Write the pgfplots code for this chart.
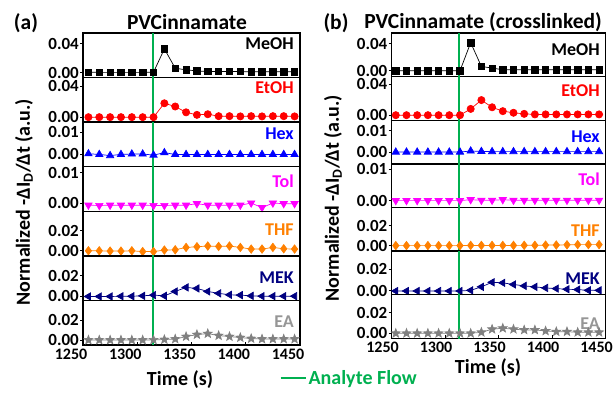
\documentclass[border=0pt]{standalone}
\usepackage{fontspec}
\setmainfont{Carlito}
\usepackage{pgfplots}
\usepackage{pgfplotstable}
\pgfplotsset{compat=1.18}
\usetikzlibrary{plotmarks}
\definecolor{flow}{RGB}{0,176,80}
\definecolor{cRed}{RGB}{255,0,0}
\definecolor{cBlue}{RGB}{0,0,255}
\definecolor{cMag}{RGB}{255,0,255}
\definecolor{cOrange}{RGB}{255,128,0}
\definecolor{cNavy}{RGB}{0,0,128}
\definecolor{cGray}{RGB}{128,128,128}
\definecolor{cGrayT}{RGB}{150,150,150}
\newcommand{\tkfont}{\fontsize{17}{17}\selectfont\bfseries}
\newcommand{\xtkfont}{\fontsize{16}{16}\selectfont\bfseries}
\newcommand{\lblfont}{\fontsize{18}{18}\selectfont\bfseries}
\newcommand{\bigfont}{\fontsize{20}{20}\selectfont\bfseries}
\newcommand{\ttlfont}{\fontsize{21.5}{21.5}\selectfont\bfseries}

\pgfdeclareplotmark{fstar}{%
 \pgfpathmoveto{\pgfpointpolar{90}{\pgfplotmarksize}}%
 \pgfpathlineto{\pgfpointpolar{126}{0.42\pgfplotmarksize}}%
 \pgfpathlineto{\pgfpointpolar{162}{\pgfplotmarksize}}%
 \pgfpathlineto{\pgfpointpolar{198}{0.42\pgfplotmarksize}}%
 \pgfpathlineto{\pgfpointpolar{234}{\pgfplotmarksize}}%
 \pgfpathlineto{\pgfpointpolar{270}{0.42\pgfplotmarksize}}%
 \pgfpathlineto{\pgfpointpolar{306}{\pgfplotmarksize}}%
 \pgfpathlineto{\pgfpointpolar{342}{0.42\pgfplotmarksize}}%
 \pgfpathlineto{\pgfpointpolar{18}{\pgfplotmarksize}}%
 \pgfpathlineto{\pgfpointpolar{54}{0.42\pgfplotmarksize}}%
 \pgfpathclose\pgfusepathqfillstroke}

\pgfplotstableread{
t meoh etoh hex tol thf mek ea
1255 0.0005 0.0000 0.0003 -0.0007 0.0000 0.0000 0.0000
1265 0.0003 0.0000 0.0000 -0.0008 0.0000 0.0000 0.0000
1275 0.0003 0.0000 -0.0005 -0.0007 -0.0003 0.0000 0.0000
1285 0.0003 0.0000 0.0000 -0.0007 -0.0003 0.0002 0.0000
1295 0.0003 0.0000 0.0002 -0.0007 0.0000 0.0002 0.0000
1305 0.0003 0.0000 0.0002 -0.0007 -0.0008 0.0006 0.0000
1315 0.0005 0.0000 -0.0003 -0.0008 -0.0008 0.0013 0.0002
1325 0.0330 0.0181 0.0008 -0.0008 0.0007 0.0006 0.0005
1335 0.0061 0.0139 0.0000 -0.0007 0.0010 0.0048 0.0010
1345 0.0038 0.0063 0.0000 -0.0007 0.0033 0.0087 0.0035
1355 0.0024 0.0030 0.0000 -0.0002 0.0040 0.0077 0.0055
1365 0.0014 0.0038 0.0000 -0.0007 0.0047 0.0048 0.0065
1375 0.0014 0.0013 0.0000 -0.0007 0.0043 0.0030 0.0045
1385 0.0014 0.0013 0.0000 -0.0007 0.0047 0.0016 0.0035
1395 0.0014 0.0010 0.0000 -0.0007 0.0033 0.0013 0.0025
1405 0.0012 0.0013 0.0000 0.0000 0.0017 0.0006 0.0015
1415 0.0012 0.0010 0.0000 -0.0015 0.0017 0.0003 0.0010
1425 0.0012 0.0013 0.0000 0.0000 0.0033 0.0003 0.0010
1435 0.0012 0.0013 0.0000 -0.0002 0.0020 0.0003 0.0010
1445 0.0012 0.0010 0.0000 -0.0002 0.0017 0.0003 0.0010
}\dataA

\pgfplotstableread{
t meoh etoh hex tol thf mek ea
1254 0.0000 0.0003 0.0000 0.0000 0.0000 0.0000 0.0000
1264 0.0000 0.0003 0.0000 0.0000 0.0000 0.0000 0.0000
1274 0.0000 0.0003 0.0000 0.0000 0.0000 0.0000 0.0000
1284 0.0000 0.0003 0.0000 0.0000 0.0000 0.0000 0.0000
1294 0.0000 0.0003 0.0000 0.0000 0.0000 0.0000 0.0000
1304 0.0000 0.0003 0.0000 0.0000 0.0000 0.0000 0.0000
1314 0.0000 0.0003 0.0000 0.0000 0.0000 0.0000 0.0000
1324 0.0420 0.0084 0.0005 0.0003 0.0002 0.0006 0.0000
1334 0.0064 0.0198 0.0003 0.0001 0.0002 0.0038 0.0010
1344 0.0040 0.0105 0.0002 0.0001 0.0002 0.0080 0.0040
1354 0.0015 0.0055 0.0002 0.0003 0.0002 0.0075 0.0050
1364 0.0015 0.0034 0.0002 0.0001 0.0002 0.0060 0.0040
1374 0.0015 0.0020 0.0002 0.0001 0.0003 0.0047 0.0033
1384 0.0015 0.0013 0.0002 0.0001 0.0003 0.0038 0.0033
1394 0.0015 0.0013 0.0002 0.0001 0.0005 0.0028 0.0023
1404 0.0015 0.0013 0.0002 0.0001 0.0006 0.0022 0.0016
1414 0.0015 0.0013 0.0002 0.0001 0.0008 0.0016 0.0016
1424 0.0015 0.0013 0.0002 0.0001 0.0010 0.0013 0.0010
1434 0.0015 0.0013 0.0002 0.0001 0.0010 0.0006 0.0010
1444 0.0015 0.0013 0.0002 0.0001 0.0010 0.0006 0.0010
}\dataB

\pgfplotsset{
 myrow/.style={scale only axis, anchor=south west, xmin=1250, xmax=1450,
   axis line style={line width=1.3pt}, xtick=\empty, ytick pos=left,
   ytick align=outside, major tick length=3pt,
   tick style={line width=1pt, black},
   scaled y ticks=false, scaled x ticks=false,
   yticklabel style={font=\tkfont, inner sep=1pt},
   /pgf/number format/assume math mode=true},
 rowA/.style={myrow, width=217pt, height=44.57pt},
 rowB/.style={myrow, width=214pt, height=43.6pt},
 botrowA/.style={xtick={1250,1300,1350,1400,1450},
   xticklabels={1250,1300,1350,1400,1450}, xtick pos=bottom, xtick align=inside,
   xticklabel style={font=\xtkfont, xshift=-12pt}},
 botrowB/.style={xtick={1250,1300,1350,1400,1450},
   xticklabels={1250,1300,1350,1400,1450}, xtick pos=bottom, xtick align=inside,
   xticklabel style={font=\xtkfont, xshift=-9pt}},
 dat/.style={line width=0.7pt, mark options={solid}},
 gl/.style={flow, line width=2pt},
}

\begin{document}
\begin{tikzpicture}
\path[use as bounding box] (0pt,0pt) rectangle (615pt,392pt);

% ---------------- Panel (a) ----------------
\begin{axis}[rowA, at={(83pt,314.42pt)}, ymin=-0.0069, ymax=0.055, ytick={0,0.04}, yticklabels={0.00,0.04}]
\addplot[dat, black, mark=square*, mark size=3.2pt] table[x=t,y=meoh]{\dataA};
\addplot[gl] coordinates {(1314.5,-1) (1314.5,1)};
\node[anchor=north east, inner sep=0pt, font=\lblfont, text=black] at (rel axis cs:0.972,0.89) {MeOH};
\end{axis}
\begin{axis}[rowA, at={(83pt,269.85pt)}, ymin=-0.0065, ymax=0.0516, ytick={0,0.04}, yticklabels={0.00,0.04}]
\addplot[dat, cRed, mark=*, mark size=3.6pt] table[x=t,y=etoh]{\dataA};
\addplot[gl] coordinates {(1314.5,-1) (1314.5,1)};
\node[anchor=north east, inner sep=0pt, font=\lblfont, text=cRed] at (rel axis cs:0.972,0.91) {EtOH};
\end{axis}
\begin{axis}[rowA, at={(83pt,225.28pt)}, ymin=-0.0055, ymax=0.0145, ytick={0,0.01}, yticklabels={0.00,0.01}]
\addplot[dat, cBlue, mark=triangle*, mark size=4.2pt] table[x=t,y=hex]{\dataA};
\addplot[gl] coordinates {(1314.5,-1) (1314.5,1)};
\node[anchor=north east, inner sep=0pt, font=\lblfont, text=cBlue] at (rel axis cs:0.972,0.886) {Hex};
\end{axis}
\begin{axis}[rowA, at={(83pt,180.71pt)}, ymin=-0.0027, ymax=0.012, ytick={0,0.01}, yticklabels={0.00,0.01}]
\addplot[dat, cMag, mark=triangle*, mark size=4.2pt, mark options={rotate=180}] table[x=t,y=tol]{\dataA};
\addplot[gl] coordinates {(1314.5,-1) (1314.5,1)};
\node[anchor=north east, inner sep=0pt, font=\lblfont, text=cMag] at (rel axis cs:0.972,0.82) {Tol};
\end{axis}
\begin{axis}[rowA, at={(83pt,136.14pt)}, ymin=-0.005, ymax=0.039, ytick={0,0.02}, yticklabels={0.00,0.02}]
\addplot[dat, cOrange, mark=diamond*, mark size=4.2pt] table[x=t,y=thf]{\dataA};
\addplot[gl] coordinates {(1314.5,-1) (1314.5,1)};
\node[anchor=north east, inner sep=0pt, font=\lblfont, text=cOrange] at (rel axis cs:0.972,0.727) {THF};
\end{axis}
\begin{axis}[rowA, at={(83pt,91.57pt)}, ymin=-0.0038, ymax=0.039, ytick={0,0.02}, yticklabels={0.00,0.02}]
\addplot[dat, cNavy, mark=triangle*, mark size=4.2pt, mark options={rotate=90}] table[x=t,y=mek]{\dataA};
\addplot[gl] coordinates {(1314.5,-1) (1314.5,1)};
\node[anchor=north east, inner sep=0pt, font=\lblfont, text=cNavy] at (rel axis cs:0.972,0.645) {MEK};
\end{axis}
\begin{axis}[rowA, botrowA, at={(83pt,47pt)}, ymin=-0.005, ymax=0.04, ytick={0,0.02}, yticklabels={0.00,0.02},
  legend style={at={(0.905,-0.74)}, anchor=west, draw=none, fill=none, font=\bigfont, text=flow, inner sep=0pt},
  legend image code/.code={\draw[#1] (0pt,0pt) -- (25pt,0pt);}]
\addplot[dat, cGray, mark=fstar, mark size=4.6pt, forget plot] table[x=t,y=ea]{\dataA};
\addplot[gl] coordinates {(1314.5,-1) (1314.5,1)};
\addlegendentry{Analyte Flow}
\node[anchor=north east, inner sep=0pt, font=\lblfont, text=cGrayT] at (rel axis cs:0.972,0.667) {EA};
\end{axis}

% ---------------- Panel (b) ----------------
\begin{axis}[rowB, at={(391.5pt,315.3pt)}, ymin=-0.0089, ymax=0.0563, ytick={0,0.04}, yticklabels={0.00,0.04}]
\addplot[dat, black, mark=square*, mark size=3.2pt] table[x=t,y=meoh]{\dataB};
\addplot[gl] coordinates {(1313,-1) (1313,1)};
\node[anchor=north east, inner sep=0pt, font=\lblfont, text=black] at (rel axis cs:0.974,0.77) {MeOH};
\end{axis}
\begin{axis}[rowB, at={(391.5pt,271.7pt)}, ymin=-0.0063, ymax=0.050, ytick={0,0.04}, yticklabels={0.00,0.04}]
\addplot[dat, cRed, mark=*, mark size=3.6pt] table[x=t,y=etoh]{\dataB};
\addplot[gl] coordinates {(1313,-1) (1313,1)};
\node[anchor=north east, inner sep=0pt, font=\lblfont, text=cRed] at (rel axis cs:0.974,0.816) {EtOH};
\end{axis}
\begin{axis}[rowB, at={(391.5pt,228.1pt)}, ymin=-0.0055, ymax=0.0148, ytick={0,0.01}, yticklabels={0.00,0.01}]
\addplot[dat, cBlue, mark=triangle*, mark size=4.2pt] table[x=t,y=hex]{\dataB};
\addplot[gl] coordinates {(1313,-1) (1313,1)};
\node[anchor=north east, inner sep=0pt, font=\lblfont, text=cBlue] at (rel axis cs:0.974,0.77) {Hex};
\end{axis}
\begin{axis}[rowB, at={(391.5pt,184.5pt)}, ymin=-0.0022, ymax=0.0118, ytick={0,0.01}, yticklabels={0.00,0.01}]
\addplot[dat, cMag, mark=triangle*, mark size=4.2pt, mark options={rotate=180}] table[x=t,y=tol]{\dataB};
\addplot[gl] coordinates {(1313,-1) (1313,1)};
\node[anchor=north east, inner sep=0pt, font=\lblfont, text=cMag] at (rel axis cs:0.974,0.79) {Tol};
\end{axis}
\begin{axis}[rowB, at={(391.5pt,140.9pt)}, ymin=-0.0055, ymax=0.0383, ytick={0,0.02}, yticklabels={0.00,0.02}]
\addplot[dat, cOrange, mark=diamond*, mark size=4.2pt] table[x=t,y=thf]{\dataB};
\addplot[gl] coordinates {(1313,-1) (1313,1)};
\node[anchor=north east, inner sep=0pt, font=\lblfont, text=cOrange] at (rel axis cs:0.974,0.61) {THF};
\end{axis}
\begin{axis}[rowB, at={(391.5pt,97.3pt)}, ymin=-0.0034, ymax=0.0367, ytick={0,0.02}, yticklabels={0.00,0.02}]
\addplot[dat, cNavy, mark=triangle*, mark size=4.2pt, mark options={rotate=90}] table[x=t,y=mek]{\dataB};
\addplot[gl] coordinates {(1313,-1) (1313,1)};
\node[anchor=north east, inner sep=0pt, font=\lblfont, text=cNavy] at (rel axis cs:0.974,0.495) {MEK};
\end{axis}
\begin{axis}[rowB, botrowB, at={(391.5pt,53.7pt)}, ymin=-0.0049, ymax=0.0379, ytick={0,0.02}, yticklabels={0.00,0.02}]
\addplot[dat, cGray, mark=fstar, mark size=4.6pt] table[x=t,y=ea]{\dataB};
\addplot[gl] coordinates {(1313,-1) (1313,1)};
\node[anchor=north east, inner sep=0pt, font=\lblfont, text=cGrayT] at (rel axis cs:0.974,0.47) {EA};
\end{axis}

% ---------------- titles and labels ----------------
\node[font=\ttlfont] at (26pt,369pt) {(a)};
\node[font=\ttlfont] at (187pt,370pt) {PVCinnamate};
\node[font=\ttlfont] at (336pt,369pt) {(b)};
\node[font=\ttlfont] at (483pt,370pt) {PVCinnamate (crosslinked)};
\node[font=\bigfont, rotate=90] at (24pt,190pt) {Normalized -ΔI\textsubscript{D}/Δt (a.u.)};
\node[font=\bigfont, rotate=90] at (333pt,194pt) {Normalized -ΔI\textsubscript{D}/Δt (a.u.)};
\node[font=\bigfont] at (180pt,12pt) {Time (s)};
\node[font=\bigfont] at (488pt,24pt) {Time (s)};
\end{tikzpicture}
\end{document}
